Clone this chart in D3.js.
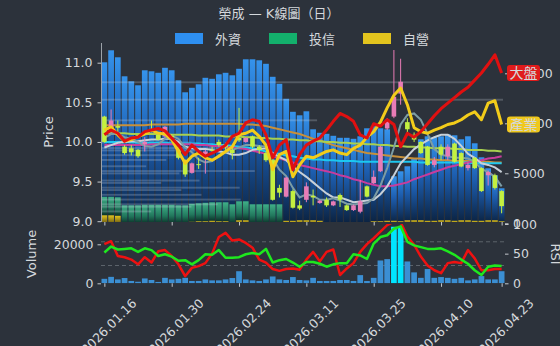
<!DOCTYPE html>
<html>
<head>
<meta charset="utf-8">
<script src="https://cdn.jsdelivr.net/npm/d3@7"></script>
<style>
  body { margin: 0; background: #2c323b; }
  svg { display: block; }
  text { font-family: "DejaVu Sans", "Noto Sans CJK TC", sans-serif; fill: #d4d8dc; }
</style>
</head>
<body>
<script>
// trading days (categories)
const dates = [
  "2026.01.16", "2026.01.19", "2026.01.20", "2026.01.21", "2026.01.22", "2026.01.23", "2026.01.26", "2026.01.27", "2026.01.28", "2026.01.29",
  "2026.01.30", "2026.02.02", "2026.02.03", "2026.02.04", "2026.02.05", "2026.02.06", "2026.02.09", "2026.02.10", "2026.02.11", "2026.02.23",
  "2026.02.24", "2026.02.25", "2026.02.26", "2026.03.02", "2026.03.03", "2026.03.04", "2026.03.05", "2026.03.06", "2026.03.09", "2026.03.10",
  "2026.03.11", "2026.03.12", "2026.03.13", "2026.03.16", "2026.03.17", "2026.03.18", "2026.03.19", "2026.03.20", "2026.03.23", "2026.03.24",
  "2026.03.25", "2026.03.26", "2026.03.27", "2026.03.30", "2026.03.31", "2026.04.01", "2026.04.02", "2026.04.07", "2026.04.08", "2026.04.09",
  "2026.04.10", "2026.04.13", "2026.04.14", "2026.04.15", "2026.04.16", "2026.04.17", "2026.04.20", "2026.04.21", "2026.04.22", "2026.04.23"
];
const tickIdx = [0, 10, 20, 30, 40, 50, 59];

// daily candles
const open = [10.32, 10.17, 10.20, 9.94, 9.92, 9.90, 9.97, 10.15, 10.09, 10.07,
  10.08, 9.94, 9.77, 9.61, 9.72, 9.82, 9.90, 10.00, 9.97, 9.90,
  10.05, 10.00, 10.07, 9.94, 9.86, 9.77, 9.42, 9.31, 9.38, 9.20,
  9.27, 9.32, 9.23, 9.27, 9.20, 9.33, 9.20, 9.14, 9.12, 9.44,
  9.48, 9.63, 10.17, 10.32, 10.61, 10.25, 10.09, 10.00, 9.94, 9.71,
  9.94, 9.82, 9.98, 9.86, 9.67, 9.80, 9.67, 9.58, 9.58, 9.38];
const high = [10.33, 10.41, 10.27, 9.96, 9.96, 9.91, 10.06, 10.27, 10.10, 10.20,
  10.10, 9.95, 9.78, 9.74, 9.80, 9.90, 9.94, 10.03, 9.99, 9.93,
  10.43, 10.06, 10.08, 9.96, 9.88, 9.78, 9.46, 9.56, 9.40, 9.26,
  9.49, 9.40, 9.27, 9.30, 9.26, 9.35, 9.21, 9.21, 9.52, 9.45,
  9.64, 9.95, 10.30, 11.16, 11.05, 10.30, 10.12, 10.01, 9.95, 9.81,
  9.97, 9.97, 9.99, 9.87, 9.74, 9.81, 9.68, 9.64, 9.60, 9.39];
const low = [9.99, 10.12, 10.12, 9.84, 9.83, 9.80, 9.88, 10.12, 10.02, 10.05,
  10.03, 9.78, 9.56, 9.60, 9.66, 9.60, 9.86, 9.94, 9.90, 9.78,
  10.00, 9.99, 9.92, 9.85, 9.75, 9.26, 9.30, 9.30, 9.16, 9.14,
  9.24, 9.20, 9.22, 9.18, 9.19, 9.18, 9.13, 9.13, 9.10, 9.30,
  9.47, 9.62, 10.15, 10.30, 10.47, 10.08, 10.00, 9.85, 9.70, 9.68,
  9.77, 9.77, 9.74, 9.68, 9.64, 9.66, 9.37, 9.45, 9.40, 9.10];
const close = [10.00, 10.27, 10.18, 9.86, 9.87, 9.82, 10.00, 10.14, 10.03, 10.19,
  10.06, 9.80, 9.59, 9.73, 9.71, 9.88, 9.89, 9.96, 9.93, 9.86,
  10.02, 10.05, 9.94, 9.90, 9.77, 9.27, 9.36, 9.55, 9.17, 9.16,
  9.44, 9.30, 9.26, 9.20, 9.25, 9.27, 9.14, 9.20, 9.25, 9.31,
  9.56, 9.94, 10.28, 10.57, 10.76, 10.16, 10.03, 9.86, 9.71, 9.77,
  9.84, 9.94, 9.75, 9.69, 9.71, 9.67, 9.38, 9.62, 9.42, 9.19];

// moving averages (price)
const ma5 = [10.05, 10.10, 10.10, 10.06, 10.04, 10.00, 9.95, 9.94, 9.97, 10.04,
  10.08, 10.04, 9.93, 9.87, 9.78, 9.74, 9.76, 9.83, 9.87, 9.90,
  9.93, 9.96, 9.96, 9.95, 9.94, 9.79, 9.65, 9.57, 9.42, 9.30,
  9.34, 9.32, 9.27, 9.27, 9.29, 9.26, 9.22, 9.21, 9.22, 9.23,
  9.29, 9.45, 9.67, 9.93, 10.22, 10.34, 10.36, 10.28, 10.10, 9.91,
  9.84, 9.82, 9.80, 9.80, 9.79, 9.75, 9.66, 9.62, 9.56, 9.44];
const ma10 = [9.93, 9.96, 9.99, 10.00, 10.01, 10.01, 10.02, 10.03, 10.03, 10.04,
  10.04, 10.00, 9.94, 9.92, 9.91, 9.91, 9.90, 9.88, 9.87, 9.84,
  9.84, 9.86, 9.90, 9.91, 9.92, 9.86, 9.81, 9.77, 9.69, 9.62,
  9.56, 9.49, 9.42, 9.35, 9.30, 9.30, 9.27, 9.24, 9.25, 9.26,
  9.27, 9.34, 9.44, 9.58, 9.73, 9.82, 9.91, 9.97, 10.02, 10.06,
  10.09, 10.09, 10.04, 9.95, 9.85, 9.80, 9.73, 9.71, 9.68, 9.62];
const ma20 = [9.96, 9.96, 9.96, 9.96, 9.96, 9.96, 9.96, 9.97, 9.97, 9.97,
  9.97, 9.97, 9.97, 9.97, 9.96, 9.96, 9.95, 9.95, 9.94, 9.93,
  9.92, 9.91, 9.89, 9.87, 9.85, 9.82, 9.79, 9.77, 9.74, 9.71,
  9.69, 9.67, 9.65, 9.63, 9.61, 9.58, 9.56, 9.53, 9.51, 9.48,
  9.46, 9.44, 9.44, 9.45, 9.47, 9.49, 9.53, 9.56, 9.59, 9.62,
  9.65, 9.68, 9.70, 9.72, 9.74, 9.76, 9.77, 9.79, 9.80, 9.82];
const ma60 = [10.00, 10.00, 10.00, 10.00, 10.00, 9.99, 9.99, 9.99, 9.99, 9.99,
  9.98, 9.98, 9.98, 9.98, 9.98, 9.97, 9.97, 9.96, 9.96, 9.95,
  9.94, 9.93, 9.92, 9.90, 9.88, 9.86, 9.85, 9.83, 9.82, 9.80,
  9.79, 9.78, 9.78, 9.77, 9.77, 9.76, 9.76, 9.76, 9.75, 9.75,
  9.75, 9.75, 9.75, 9.75, 9.75, 9.75, 9.75, 9.74, 9.74, 9.74,
  9.74, 9.74, 9.74, 9.74, 9.74, 9.73, 9.73, 9.73, 9.73, 9.73];
const ma120 = [10.11, 10.11, 10.11, 10.11, 10.10, 10.10, 10.10, 10.10, 10.10, 10.10,
  10.09, 10.09, 10.09, 10.09, 10.08, 10.08, 10.08, 10.08, 10.07, 10.07,
  10.07, 10.06, 10.06, 10.05, 10.05, 10.04, 10.04, 10.03, 10.03, 10.02,
  10.02, 10.01, 10.01, 10.00, 10.00, 9.99, 9.99, 9.98, 9.98, 9.97,
  9.97, 9.96, 9.96, 9.95, 9.95, 9.94, 9.94, 9.93, 9.93, 9.92,
  9.92, 9.92, 9.91, 9.91, 9.90, 9.90, 9.90, 9.89, 9.89, 9.88];
const ma240 = [10.21, 10.21, 10.21, 10.21, 10.21, 10.21, 10.21, 10.22, 10.22, 10.22,
  10.22, 10.22, 10.23, 10.23, 10.23, 10.23, 10.23, 10.23, 10.23, 10.23,
  10.23, 10.22, 10.22, 10.21, 10.20, 10.18, 10.16, 10.14, 10.12, 10.10,
  10.07, 10.04, 10.02, 9.99, 9.96, 9.94, 9.92, 9.90, 9.88, 9.86,
  9.85, 9.84, 9.83, 9.82, 9.81, 9.80, 9.79, 9.79, 9.78, 9.78,
  9.77, 9.77, 9.76, 9.76, 9.76, 9.75, 9.75, 9.75, 9.74, 9.74];

// market and industry index, rebased to the stock price
const market = [10.09, 10.15, 10.11, 10.01, 10.05, 10.06, 10.13, 10.15, 10.17, 10.14,
  10.05, 9.96, 9.84, 9.96, 9.88, 9.82, 9.86, 9.90, 9.96, 10.07,
  10.11, 10.24, 10.28, 10.26, 10.09, 9.80, 9.96, 10.03, 9.65, 9.84,
  9.96, 10.01, 10.05, 10.15, 10.26, 10.36, 10.32, 10.26, 10.09, 10.05,
  10.23, 10.20, 10.28, 10.22, 9.94, 10.11, 10.06, 10.13, 10.23, 10.33,
  10.42, 10.49, 10.56, 10.63, 10.69, 10.78, 10.87, 10.98, 11.10, 10.87];
const industry = [10.15, 10.19, 10.09, 10.01, 10.03, 10.07, 10.10, 10.15, 10.11, 10.10,
  10.03, 9.88, 9.73, 9.82, 9.86, 9.80, 9.77, 9.82, 9.88, 9.94,
  10.09, 10.11, 10.15, 10.07, 9.96, 9.65, 9.84, 9.88, 9.56, 9.71,
  9.82, 9.80, 9.84, 9.88, 9.90, 9.86, 9.84, 9.92, 9.96, 10.06,
  10.13, 10.25, 10.43, 10.59, 10.68, 10.47, 10.18, 10.13, 10.11, 10.15,
  10.18, 10.22, 10.24, 10.28, 10.34, 10.38, 10.28, 10.49, 10.52, 10.22];

// institutional holdings (right axis)
const foreign = [16100, 17300, 16600, 14700, 14200, 13800, 15300, 15200, 15050, 15550,
  15300, 14300, 13100, 13550, 13900, 14550, 14450, 14900, 15050, 14800,
  15450, 16400, 16400, 16300, 15950, 14650, 13950, 12450, 11150, 10800,
  11200, 9400, 9050, 8950, 8750, 8550, 8550, 8450, 8700, 9500,
  9700, 9500, 9400, 4700, 5200, 5700, 6500, 8400, 8700, 8600,
  8700, 8900, 8800, 8400, 8700, 8000, 6600, 5500, 4800, 3500];
const trust = [1850, 1850, 1850, 1800, 1800, 1800, 1850, 1850, 1850, 1850,
  1850, 1800, 1800, 1800, 1800, 1850, 1850, 1900, 1900, 1900,
  1900, 1900, 1900, 1900, 1900, 1900, 1900, 0, 0, 0,
  0, 0, 0, 0, 0, 0, 0, 0, 0, 0,
  0, 0, 0, 0, 0, 0, 0, 0, 0, 0,
  0, 0, 0, 0, 0, 0, 0, 0, 0, 0];
const dealer = [800, 800, 750, 0, 0, 0, 0, 0, 0, 0,
  0, 0, 0, 150, 200, 200, 250, 200, 200, 0,
  300, 300, 0, 0, 0, 0, 0, 250, 250, 300,
  300, 300, 250, 0, 0, 0, 0, 0, 0, 0,
  200, 200, 250, 250, 200, 300, 300, 300, 250, 250,
  300, 300, 250, 300, 300, 250, 250, 300, 300, 200];

// volume by price
const profilePrice = [10.75, 10.53, 10.27, 9.99, 9.92, 9.89, 9.83, 9.77, 9.69, 9.63,
  9.60, 9.51, 9.48, 9.42, 9.39, 9.33, 9.27, 9.21, 9.18, 9.12];
const profileVol = [3700, 4000, 2150, 900, 1350, 1000, 750, 650, 450, 1530,
  780, 980, 600, 1380, 800, 1000, 1390, 1160, 900, 500];

// lower panel
const volume = [2300, 3300, 2000, 2700, 1200, 800, 2500, 1700, 700, 2800,
  2000, 2300, 2800, 1200, 1200, 2000, 1500, 1500, 2000, 2700,
  6200, 2000, 1500, 1200, 2000, 3500, 2000, 1700, 3200, 1700,
  1500, 2800, 1200, 1200, 1200, 1700, 1700, 1200, 4200, 1200,
  2800, 11700, 12400, 29000, 28500, 11200, 5600, 2800, 7300, 2800,
  3200, 2800, 2300, 2800, 1500, 2000, 3700, 2000, 2000, 6200];
const rsiFast = [66, 71, 46, 44, 40, 32, 44, 35, 54, 56,
  46, 32, 12, 26, 29, 34, 50, 78, 85, 72,
  74, 68, 60, 40, 35, 24, 21, 24, 25, 23,
  40, 53, 37, 53, 57, 14, 25, 34, 53, 66,
  76, 87, 98, 104, 103, 79, 65, 45, 30, 22,
  17, 34, 36, 34, 56, 42, 22, 22, 24, 24];
const rsiSlow = [52, 62, 57, 58, 59, 53, 59, 56, 46, 49,
  45, 38, 39, 32, 39, 49, 48, 56, 43, 43,
  44, 49, 51, 49, 58, 35, 39, 41, 35, 28,
  36, 36, 33, 28, 32, 34, 34, 49, 47, 41,
  67, 78, 81, 92, 96, 70, 64, 61, 58, 58,
  59, 54, 48, 40, 33, 22, 14, 28, 30, 29];

// layout
const width = 560, height = 346;
const main = { left: 101, right: 505, top: 43, bottom: 222 };
const sub = { top: 224, bottom: 283.3 };
const axisColor = "#c4c8cc";

const svg = d3.select("body").append("svg").attr("width", width).attr("height", height);

const x = d3.scaleLinear().domain([-0.5, 59.5]).range([main.left, main.right]);
const step = x(1) - x(0);
const yPrice = d3.scaleLinear().domain([9, 11]).range([221.2, 62.7]);
const yHold = d3.scaleLinear().domain([0, 15000]).range([223.3, 73.3]);
const yVol = d3.scaleLinear().domain([0, 20000]).range([283.3, 244.3]);
const yRsi = d3.scaleLinear().domain([0, 100]).range([283.3, 224]);
const xProf = d3.scaleLinear().domain([0, 4000]).range([0, 402]);

const defs = svg.append("defs");
defs.append("clipPath").attr("id", "clipMain").append("rect")
  .attr("x", main.left).attr("y", main.top)
  .attr("width", main.right - main.left).attr("height", main.bottom - main.top);
defs.append("clipPath").attr("id", "clipSub").append("rect")
  .attr("x", main.left).attr("y", sub.top)
  .attr("width", main.right - main.left).attr("height", sub.bottom - sub.top);

function grad(id, stops) {
  const g = defs.append("linearGradient").attr("id", id)
    .attr("x1", 0).attr("y1", 0).attr("x2", 0).attr("y2", 1);
  stops.forEach((s) => g.append("stop").attr("offset", s[0]).attr("stop-color", s[1]));
}
grad("gBlue", [[0, "#3593ec"], [0.45, "#1d5eb0"], [1, "#0b2240"]]);
grad("gGreen", [[0, "#40b088"], [0.6, "#21775c"], [1, "#0b3328"]]);
grad("gYellow", [[0, "#e2c41e"], [1, "#6a5a10"]]);

// title and legend
svg.append("text").attr("x", 279).attr("y", 18).attr("text-anchor", "middle")
  .style("font-size", "13px").text("榮成 — K線圖（日）");

const legend = [["外資", "#2e8ff0", 175], ["投信", "#13b06c", 269], ["自營", "#e3c41e", 363]];
legend.forEach((l) => {
  svg.append("rect").attr("x", l[2]).attr("y", 33).attr("width", 28).attr("height", 11).attr("fill", l[1]);
  svg.append("text").attr("x", l[2] + 40).attr("y", 43.5).style("font-size", "13px").text(l[0]);
});

// ---- main panel
const gMain = svg.append("g").attr("clip-path", "url(#clipMain)");
const barW = step * 0.85;
const idx = d3.range(dates.length);

gMain.selectAll(".fb").data(idx).enter().append("rect")
  .attr("x", (i) => x(i) - barW / 2).attr("width", barW)
  .attr("y", (i) => yHold(foreign[i])).attr("height", (i) => yHold(0) - yHold(foreign[i]))
  .attr("fill", "url(#gBlue)");

gMain.selectAll(".tb").data(idx.filter((i) => trust[i] > 0)).enter().append("rect")
  .attr("x", (i) => x(i) - barW / 2).attr("width", barW)
  .attr("y", (i) => yHold(dealer[i] + trust[i]))
  .attr("height", (i) => yHold(dealer[i]) - yHold(dealer[i] + trust[i]))
  .attr("fill", "url(#gGreen)");

gMain.selectAll(".db").data(idx.filter((i) => dealer[i] > 0)).enter().append("rect")
  .attr("x", (i) => x(i) - barW / 2).attr("width", barW)
  .attr("y", (i) => yHold(dealer[i])).attr("height", (i) => yHold(0) - yHold(dealer[i]))
  .attr("fill", "url(#gYellow)");

// volume profile
const binH = yPrice(9) - yPrice(9.03);
gMain.selectAll(".vp").data(profilePrice).enter().append("rect")
  .attr("x", main.left).attr("y", (p) => yPrice(p) - binH / 2)
  .attr("width", (p, i) => xProf(profileVol[i])).attr("height", binH * 0.8)
  .attr("fill", "#d0dae4").attr("opacity", 0.24);

// moving averages
const line = (arr) => d3.line().x((d, i) => x(i)).y((d) => yPrice(d))(arr);
[[ma240, "#c8903a"], [ma120, "#a8d050"], [ma60, "#1cc8f0"], [ma20, "#c83c9c"],
 [ma10, "#c8d0d8"], [ma5, "#7c9ca4"]].forEach((m) => {
  gMain.append("path").attr("d", line(m[0])).attr("fill", "none")
    .attr("stroke", m[1]).attr("stroke-width", 2);
});

// candles
const up = "#e87cb6", down = "#c4f040";
const candle = gMain.selectAll(".c").data(idx).enter().append("g");
candle.append("line")
  .attr("x1", (i) => x(i)).attr("x2", (i) => x(i))
  .attr("y1", (i) => yPrice(high[i])).attr("y2", (i) => yPrice(low[i]))
  .attr("stroke", (i) => (close[i] >= open[i] ? up : down)).attr("stroke-width", 1);
candle.append("rect")
  .attr("x", (i) => x(i) - 2.3).attr("width", 4.6)
  .attr("y", (i) => yPrice(Math.max(open[i], close[i])))
  .attr("height", (i) => Math.max(1, Math.abs(yPrice(open[i]) - yPrice(close[i]))))
  .attr("fill", (i) => (close[i] >= open[i] ? up : down));

// market / industry
gMain.append("path").attr("d", line(industry)).attr("fill", "none")
  .attr("stroke", "#f2cc1a").attr("stroke-width", 3).attr("stroke-linejoin", "round");
gMain.append("path").attr("d", line(market)).attr("fill", "none")
  .attr("stroke", "#e01010").attr("stroke-width", 3).attr("stroke-linejoin", "round");

// axes of main panel
const styleAxis = (g) => {
  g.select(".domain").remove();
  g.selectAll("line").attr("stroke", axisColor);
  g.selectAll("text").style("font-size", "12.5px").attr("fill", "#d4d8dc");
};
svg.append("g").attr("transform", `translate(${main.left},0)`)
  .call(d3.axisLeft(yPrice).tickValues([9, 9.5, 10, 10.5, 11]).tickFormat(d3.format(".1f"))
    .tickSize(3.5).tickPadding(5))
  .call(styleAxis);
svg.append("line").attr("x1", main.left + 0.5).attr("x2", main.left + 0.5)
  .attr("y1", main.top).attr("y2", main.bottom).attr("stroke", "#9ca2a8");
svg.append("g").attr("transform", `translate(${main.right},0)`)
  .call(d3.axisRight(yHold).tickValues([0, 5000, 10000, 15000]).tickFormat(d3.format("d"))
    .tickSize(3.5).tickPadding(4.5))
  .call(styleAxis);
svg.append("g").attr("transform", `translate(0,${main.bottom})`)
  .call(d3.axisBottom(x).tickValues(tickIdx).tickFormat("").tickSize(3.5))
  .call(styleAxis);

// series labels at the last point
const last = dates.length - 1;
[["大盤", market[last], "#e01b1b", "#ffffff"], ["產業", industry[last], "#f0c81c", "#2a2418"]].forEach((t) => {
  const ty = yPrice(t[1]);
  svg.append("rect").attr("x", 507).attr("y", ty - 8).attr("width", 33).attr("height", 16)
    .attr("rx", 3).attr("fill", t[2]);
  svg.append("text").attr("x", 523.5).attr("y", ty + 5).attr("text-anchor", "middle")
    .style("font-size", "14px").attr("fill", t[3]).text(t[0]);
});

svg.append("text").attr("transform", "translate(53,132) rotate(-90)").attr("text-anchor", "middle")
  .style("font-size", "13px").text("Price");

// ---- lower panel
const gSub = svg.append("g").attr("clip-path", "url(#clipSub)");
[70, 30].forEach((v) => {
  gSub.append("line").attr("x1", main.left).attr("x2", main.right)
    .attr("y1", yRsi(v)).attr("y2", yRsi(v))
    .attr("stroke", "#5c636b").attr("stroke-dasharray", "4,3");
});
gSub.selectAll(".vb").data(idx).enter().append("rect")
  .attr("x", (i) => x(i) - barW / 2).attr("width", barW)
  .attr("y", (i) => yVol(volume[i])).attr("height", (i) => yVol(0) - yVol(volume[i]))
  .attr("fill", (i) => (volume[i] > 20000 ? "#00e5ff" : "#3b8fd3"));

const rsiLine = d3.line().x((d, i) => x(i)).y((d) => yRsi(d));
gSub.append("path").attr("d", rsiLine(rsiFast)).attr("fill", "none")
  .attr("stroke", "#ee1111").attr("stroke-width", 2.5).attr("stroke-linejoin", "round");
gSub.append("path").attr("d", rsiLine(rsiSlow)).attr("fill", "none")
  .attr("stroke", "#1ee81e").attr("stroke-width", 2.5).attr("stroke-linejoin", "round");

svg.append("g").attr("transform", `translate(${main.left},0)`)
  .call(d3.axisLeft(yVol).tickValues([0, 20000]).tickFormat(d3.format("d")).tickSize(3.5).tickPadding(4))
  .call(styleAxis);
svg.append("g").attr("transform", `translate(${main.right},0)`)
  .call(d3.axisRight(yRsi).tickValues([0, 50, 100]).tickSize(3.5).tickPadding(4.5))
  .call(styleAxis);
const xAxis = svg.append("g").attr("transform", `translate(0,${sub.bottom})`)
  .call(d3.axisBottom(x).tickValues(tickIdx).tickFormat((i) => dates[i]).tickSize(3.5))
  .call(styleAxis);
xAxis.selectAll("text")
  .attr("y", 0).attr("dy", 0)
  .attr("text-anchor", "middle").attr("dominant-baseline", "central")
  .attr("transform", "translate(4,43) rotate(-45)");

svg.append("text").attr("transform", "translate(36,254) rotate(-90)").attr("text-anchor", "middle")
  .style("font-size", "13px").text("Volume");
svg.append("text").attr("transform", "translate(551,254) rotate(90)").attr("text-anchor", "middle")
  .style("font-size", "13px").text("RSI");
</script>
</body>
</html>
